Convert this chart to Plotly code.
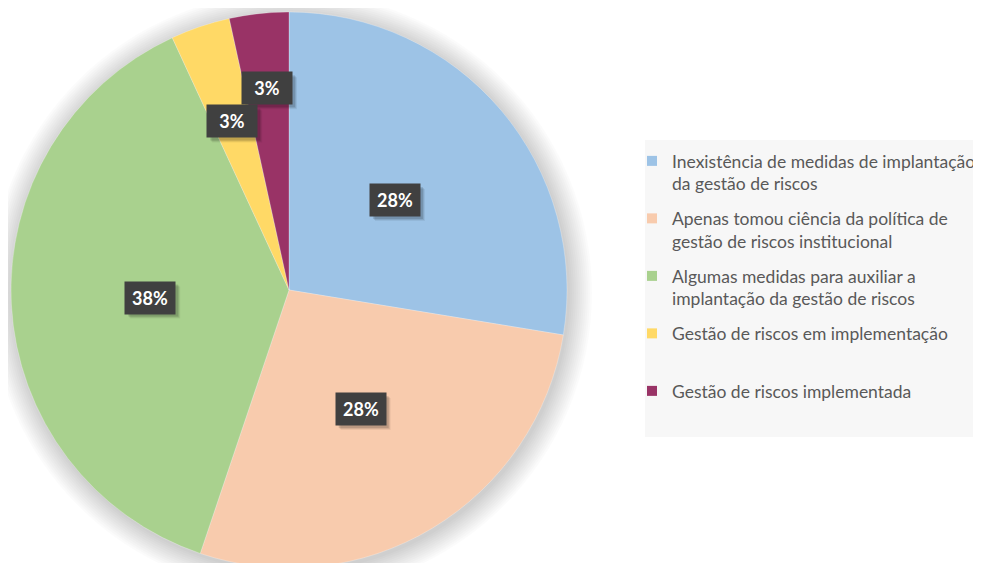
import math
import plotly.graph_objects as go

categories = [
    "Inexistência de medidas de implantação<br>da gestão de riscos",
    "Apenas tomou ciência da política de<br>gestão de riscos institucional",
    "Algumas medidas para auxiliar a<br>implantação da gestão de riscos",
    "Gestão de riscos em implementação<br> ",
    "Gestão de riscos implementada",
]
values = [8, 8, 11, 1, 1]
colors = ["#9DC3E6", "#F8CBAD", "#A9D18E", "#FFD966", "#993366"]
label_radius = [0.5, 0.5, 0.5, 0.64, 0.73]

W, H = 981, 563
OFF = 8  # page body margin
cx, cy, R = 289 - OFF, 290 - OFF, 278  # figure pixels
BW, BH, PAD = 40, 22, 5  # label box inner size and padding


def px_x(x):
    return x / W


def px_y(y):
    return 1 - y / H


fig = go.Figure()

# soft shadow around the pie
for i in range(12):
    rr = R + 1 + i * 2
    fig.add_shape(type="circle", xref="paper", yref="paper",
                  x0=px_x(cx - rr + 2), x1=px_x(cx + rr + 2),
                  y0=px_y(cy + rr + 3), y1=px_y(cy - rr + 3),
                  line_width=0, fillcolor="rgba(0,0,0,0.016)", layer="below")

# legend background
fig.add_shape(type="rect", xref="paper", yref="paper",
              x0=px_x(645 - OFF), x1=1.0, y0=px_y(437 - OFF), y1=px_y(140 - OFF),
              line_width=0, fillcolor="#F7F7F7", layer="below")

fig.add_trace(go.Pie(
    labels=categories, values=values, sort=False, direction="clockwise",
    rotation=0, marker=dict(colors=colors, line=dict(color="rgba(255,255,255,0.5)", width=0.5)),
    textinfo="none", hoverinfo="label+percent", showlegend=False,
    domain=dict(x=[px_x(cx - R), px_x(cx + R)], y=[px_y(cy + R), px_y(cy - R)]),
))

# legend entries (one group per category so the gap between entries can be set)
for i, (name, col) in enumerate(zip(categories, colors)):
    fig.add_trace(go.Scatter(
        x=[None], y=[None], mode="markers", name=name, legendgroup=str(i),
        marker=dict(symbol="square", size=10, color=col), hoverinfo="skip",
    ))

total = sum(values)
cum = 0
hw, hh = BW / 2 + PAD, BH / 2 + PAD
for v, f in zip(values, label_radius):
    mid = (cum + v / 2) / total * 2 * math.pi
    cum += v
    px = cx + R * f * math.sin(mid)
    py = cy - R * f * math.cos(mid)
    txt = "<b>%d%%</b>" % round(v / total * 100)
    # soft box shadow
    for k, a in ((5, 0.06), (4, 0.09), (3, 0.12)):
        fig.add_shape(type="rect", xref="paper", yref="paper",
                      x0=px_x(px - hw + k), x1=px_x(px + hw + k),
                      y0=px_y(py + hh + k), y1=px_y(py - hh + k),
                      line_width=0, fillcolor="rgba(0,0,0,%.2f)" % a, layer="above")
    fig.add_annotation(x=px_x(px), y=px_y(py), xref="paper", yref="paper",
                       xanchor="center", yanchor="middle",
                       text=txt, showarrow=False, bgcolor="#404040",
                       width=BW, height=BH, align="center", valign="middle",
                       font=dict(family="Lato", size=18, color="white"),
                       borderpad=PAD)

fig.update_layout(
    width=W, height=H, margin=dict(l=0, r=0, t=0, b=0),
    paper_bgcolor="white", plot_bgcolor="rgba(0,0,0,0)",
    xaxis=dict(visible=False), yaxis=dict(visible=False),
    legend=dict(x=px_x(632 - OFF), y=px_y(143 - OFF), xanchor="left", yanchor="top",
                font=dict(family="Lato", size=17.5, color="#595959"),
                bgcolor="rgba(0,0,0,0)", itemwidth=30, valign="top",
                tracegroupgap=9),
)

fig.write_html("out.html")
